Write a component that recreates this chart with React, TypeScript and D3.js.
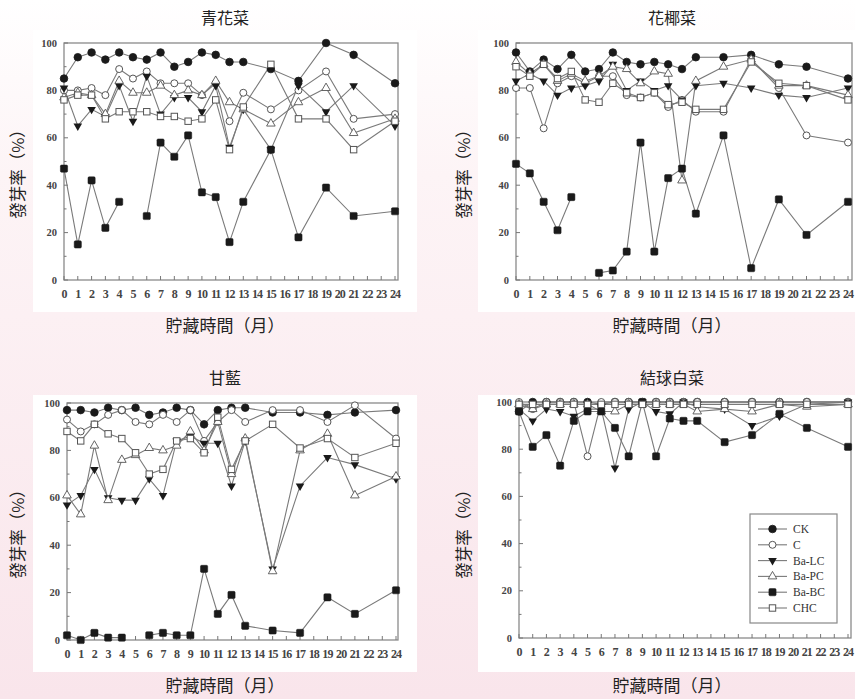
import React from "react";
import * as d3 from "d3";

const months = [0, 1, 2, 3, 4, 5, 6, 7, 8, 9, 10, 11, 12, 13, 15, 17, 19, 21, 24];
const tickMonths = d3.range(0, 25);
const yTicks = [0, 20, 40, 60, 80, 100];
const seriesNames = ["CK", "C", "Ba-LC", "Ba-PC", "Ba-BC", "CHC"];
const panelTitles = ["青花菜", "花椰菜", "甘藍", "結球白菜"];
const yTitle = "發芽率（%）";
const xTitle = "貯藏時間（月）";

type V = number | null;

// 青花菜
const broccoliCK: V[] = [85, 94, 96, 93, 96, 94, 93, 96, 90, 92, 96, 95, 92, 92, 89, 84, 100, 95, 83];
const broccoliC: V[] = [80, 80, 81, 78, 89, 85, 88, 83, 83, 83, 78, 83, 67, 79, 72, 80, 88, 68, 70];
const broccoliBaLC: V[] = [81, 65, 72, 69, 82, 67, 86, 70, 77, 77, 71, 82, 56, 72, 55, 82, 71, 82, 65];
const broccoliBaPC: V[] = [77, 79, 78, 70, 84, 79, 79, 82, 78, 80, 78, 84, 75, 72, 66, 75, 81, 62, 68];
const broccoliBaBC: V[] = [47, 15, 42, 22, 33, null, 27, 58, 52, 61, 37, 35, 16, 33, 55, 18, 39, 27, 29];
const broccoliCHC: V[] = [76, 78, 78, 68, 71, 71, 71, 69, 69, 67, 68, 76, 55, 73, 91, 68, 68, 55, 67];

// 花椰菜
const cauliCK: V[] = [96, 88, 93, 89, 95, 88, 89, 96, 92, 91, 92, 91, 89, 94, 94, 95, 91, 90, 85];
const cauliC: V[] = [81, 81, 64, 83, 86, 83, 86, 86, 78, 77, 79, 73, 76, 71, 71, 93, 81, 61, 58];
const cauliBaLC: V[] = [84, 87, 84, 78, 81, 82, 84, 91, 80, 84, 80, 82, 76, 82, 83, 81, 78, 77, 81];
const cauliBaPC: V[] = [92, 87, 91, 84, 87, 84, 86, 90, 89, 83, 88, 87, 42, 84, 90, 93, 82, 82, 78];
const cauliBaBC: V[] = [49, 45, 33, 21, 35, null, 3, 4, 12, 58, 12, 43, 47, 28, 61, 5, 34, 19, 33];
const cauliCHC: V[] = [90, 86, 91, 85, 88, 76, 75, 83, 79, 77, 79, 74, 75, 72, 72, 92, 83, 82, 76];

// 甘藍
const cabbageCK: V[] = [97, 97, 96, 98, 97, 98, 95, 96, 98, 97, 91, 97, 98, 98, 96, 96, 95, 96, 97];
const cabbageC: V[] = [93, 88, 91, 95, 97, 92, 91, 95, 92, 97, 84, 92, 97, 92, 97, 97, 92, 99, 85];
const cabbageBaLC: V[] = [57, 61, 72, 60, 59, 59, 68, 61, 84, 86, 83, 83, 65, 84, 30, 65, 77, 74, 68];
const cabbageBaPC: V[] = [61, 53, 82, 59, 76, 78, 81, 80, 82, 88, 80, 92, 70, 85, 29, 80, 87, 61, 69];
const cabbageBaBC: V[] = [2, 0, 3, 1, 1, null, 2, 3, 2, 2, 30, 11, 19, 6, 4, 3, 18, 11, 21];
const cabbageCHC: V[] = [88, 84, 91, 87, 85, 79, 70, 72, 84, 85, 79, 94, 72, 84, 91, 81, 85, 77, 83];

// 結球白菜
const chineseCK: V[] = [96, 100, 100, 100, 100, 100, 99, 100, 100, 100, 100, 100, 100, 100, 100, 100, 100, 100, 100];
const chineseC: V[] = [100, 97, 100, 100, 100, 77, 100, 100, 100, 100, 100, 100, 100, 100, 100, 100, 100, 100, 100];
const chineseBaLC: V[] = [97, 92, 97, 96, 94, 97, 97, 72, 97, 100, 96, 95, 100, 98, 97, 90, 94, 99, 100];
const chineseBaPC: V[] = [99, 97, 99, 99, 99, 99, 96, 96, 99, 99, 99, 99, 99, 96, 97, 96, 99, 98, 99];
const chineseBaBC: V[] = [96, 81, 86, 73, 92, 96, 96, 89, 77, 100, 77, 93, 92, 92, 83, 86, 95, 89, 81];
const chineseCHC: V[] = [99, 99, 99, 99, 99, 99, 99, 99, 99, 99, 99, 99, 99, 99, 99, 99, 99, 99, 99];

const panelData: V[][][] = [
  [broccoliCK, broccoliC, broccoliBaLC, broccoliBaPC, broccoliBaBC, broccoliCHC],
  [cauliCK, cauliC, cauliBaLC, cauliBaPC, cauliBaBC, cauliCHC],
  [cabbageCK, cabbageC, cabbageBaLC, cabbageBaPC, cabbageBaBC, cabbageCHC],
  [chineseCK, chineseC, chineseBaLC, chineseBaPC, chineseBaBC, chineseCHC],
];

const layouts = [
  { x0: 64, x24: 395, right: 398, yTop: 43, yBot: 280, bg: [33, 30, 417, 312], cx: 225, titleY: 24, axY: 332, ylabX: 20, cy: 170 },
  { x0: 516, x24: 848, right: 852, yTop: 43, yBot: 280, bg: [478, 30, 855, 312], cx: 672, titleY: 24, axY: 332, ylabX: 466, cy: 170 },
  { x0: 67, x24: 396, right: 398, yTop: 403, yBot: 640, bg: [33, 395, 417, 672], cx: 225, titleY: 384, axY: 692, ylabX: 20, cy: 530 },
  { x0: 519, x24: 848, right: 851, yTop: 402, yBot: 638, bg: [478, 395, 855, 672], cx: 672, titleY: 384, axY: 692, ylabX: 466, cy: 530 },
];

const LINE = "#7a7a7a";
const DARK = "#1a1a1a";
const OPEN = "#555";
const SERIF = "'Liberation Serif', 'DejaVu Serif', serif";
const CJK = "'Noto Sans CJK TC', 'Noto Sans CJK SC', sans-serif";

function Marker({ kind, x, y }: { kind: number; x: number; y: number }) {
  const tri = d3.symbol().type(d3.symbolTriangle).size(32)();
  switch (kind) {
    case 0:
      return <circle cx={x} cy={y} r={3.8} fill={DARK} stroke={DARK} strokeWidth={0.8} />;
    case 1:
      return <circle cx={x} cy={y} r={3.5} fill="#fff" stroke={OPEN} strokeWidth={1} />;
    case 2:
      return <path d={tri as string} transform={`translate(${x},${y}) rotate(180)`} fill={DARK} />;
    case 3:
      return <path d={tri as string} transform={`translate(${x},${y})`} fill="#fff" stroke={OPEN} strokeWidth={0.9} />;
    case 4:
      return <rect x={x - 3.6} y={y - 3.6} width={7.2} height={7.2} fill={DARK} stroke={DARK} strokeWidth={0.5} rx={1.2} />;
    default:
      return <rect x={x - 3.2} y={y - 3.2} width={6.4} height={6.4} fill="#fff" stroke={OPEN} strokeWidth={1} />;
  }
}

function Panel({ idx }: { idx: number }) {
  const L = layouts[idx];
  const x = d3.scaleLinear().domain([0, 24]).range([L.x0, L.x24]);
  const y = d3.scaleLinear().domain([0, 100]).range([L.yBot, L.yTop]);
  const line = d3
    .line<V>()
    .defined((d) => d != null)
    .x((_, i) => x(months[i]))
    .y((d) => y(d as number));
  const data = panelData[idx];
  const [bx0, by0, bx1, by1] = L.bg;
  return (
    <g>
      <rect x={bx0} y={by0} width={bx1 - bx0} height={by1 - by0} fill="#fff" />
      <text x={L.cx} y={L.titleY} textAnchor="middle" fontFamily={CJK} fontSize={16} fill="#222">
        {panelTitles[idx]}
      </text>
      <text x={L.cx} y={L.axY} textAnchor="middle" fontFamily={CJK} fontSize={17} fill="#222">
        {xTitle}
      </text>
      <text
        transform={`translate(${L.ylabX},${L.cy}) rotate(-90)`}
        textAnchor="middle"
        dominantBaseline="middle"
        fontFamily={CJK}
        fontSize={16.5}
        fill="#222"
      >
        {yTitle}
      </text>
      <rect x={L.x0} y={L.yTop} width={L.right - L.x0} height={L.yBot - L.yTop} fill="none" stroke="#8a8a8a" strokeWidth={1.3} />
      {d3.range(0, 101, 10).map((t) => (
        <line key={"yt" + t} x1={L.x0} x2={L.x0 + (t % 20 === 0 ? 4 : 2.5)} y1={y(t)} y2={y(t)} stroke="#777" strokeWidth={1} />
      ))}
      {yTicks.map((t) => (
        <text key={"yl" + t} x={L.x0 - 7} y={y(t)} dy="0.35em" textAnchor="end" fontFamily={SERIF} fontWeight="bold" fontSize={10.5} fill="#444">
          {t}
        </text>
      ))}
      {tickMonths.map((m) => (
        <line key={"xt" + m} x1={x(m)} x2={x(m)} y1={L.yBot} y2={L.yBot - 4} stroke="#777" strokeWidth={1} />
      ))}
      {tickMonths.map((m) => (
        <text key={"xl" + m} x={x(m)} y={L.yBot + 18} textAnchor="middle" fontFamily={SERIF} fontWeight="bold" fontSize={12} letterSpacing={-0.9} fill="#444">
          {m}
        </text>
      ))}
      {data.map((s, k) => (
        <path key={"l" + k} d={line(s) || ""} fill="none" stroke={LINE} strokeWidth={1.1} />
      ))}
      {data.map((s, k) =>
        s.map((v, i) => (v == null ? null : <Marker key={`m${k}-${i}`} kind={k} x={x(months[i])} y={y(v)} />))
      )}
      {idx === 3 && (
        <g>
          <rect x={750} y={514} width={87} height={109} fill="#fff" stroke="#888" strokeWidth={1.2} />
          {seriesNames.map((n, k) => {
            const yy = 529 + k * 15.8;
            return (
              <g key={n}>
                <line x1={758} x2={787} y1={yy} y2={yy} stroke={LINE} strokeWidth={1.1} />
                <Marker kind={k} x={772.5} y={yy} />
                <text x={793} y={yy} dy="0.35em" fontFamily={SERIF} fontSize={11.5} fill="#333">
                  {n}
                </text>
              </g>
            );
          })}
        </g>
      )}
    </g>
  );
}

export default function App() {
  return (
    <svg width={855} height={699} style={{ position: "absolute", left: 0, top: 0 }}>
      <defs>
        <linearGradient id="bgGrad" x1="0" y1="0" x2="0" y2="1">
          <stop offset="0%" stopColor="#ffffff" />
          <stop offset="25%" stopColor="#fdf4f6" />
          <stop offset="100%" stopColor="#f9e5eb" />
        </linearGradient>
      </defs>
      <rect x={0} y={0} width={855} height={699} fill="url(#bgGrad)" />
      {[0, 1, 2, 3].map((i) => (
        <Panel key={i} idx={i} />
      ))}
    </svg>
  );
}
